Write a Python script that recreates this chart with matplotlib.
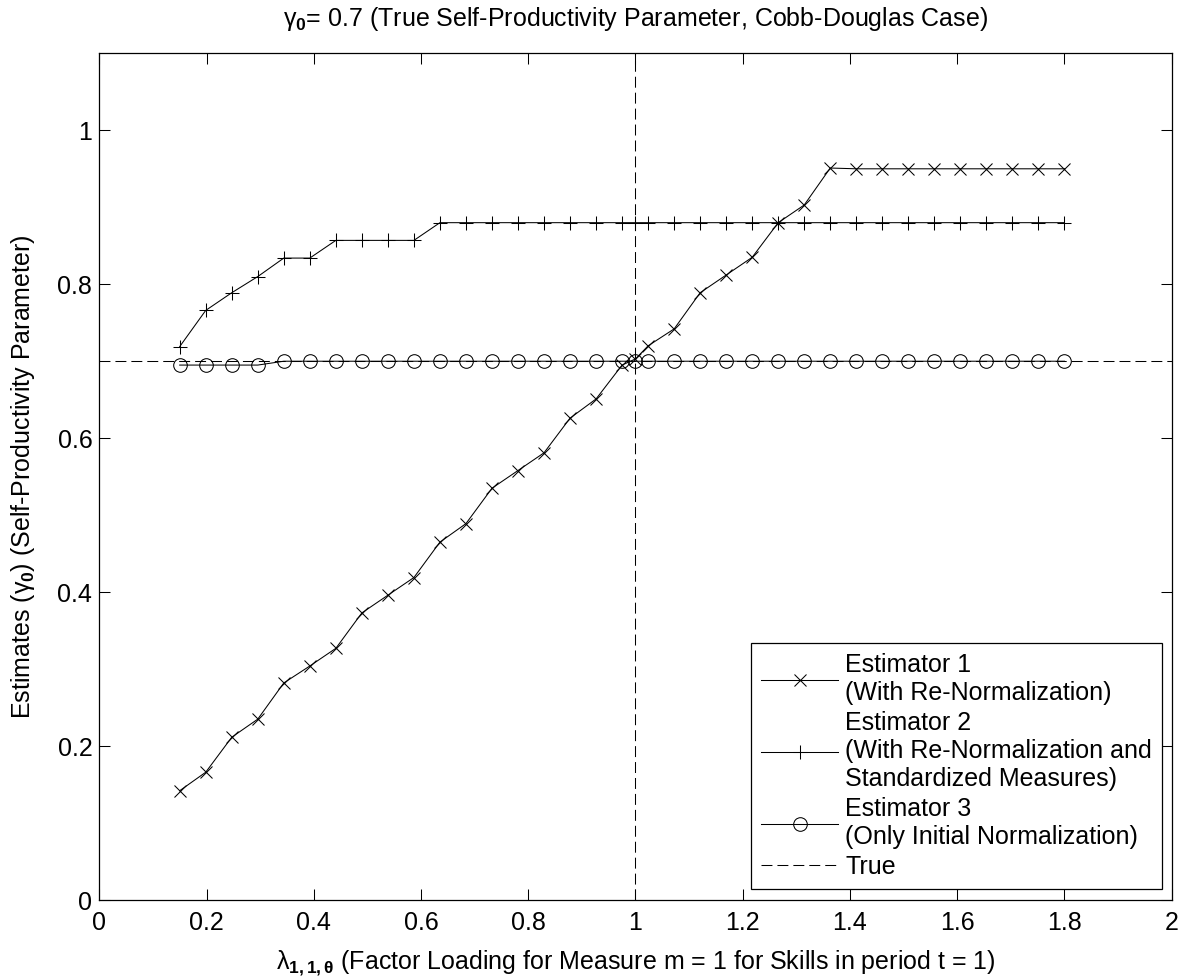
import matplotlib
matplotlib.use("Agg")
import matplotlib.pyplot as plt

plt.rcParams['font.family'] = ['Liberation Sans', 'DejaVu Sans']
plt.rcParams['mathtext.fontset'] = 'custom'
plt.rcParams['mathtext.rm'] = 'Liberation Sans'
plt.rcParams['mathtext.it'] = 'Liberation Sans'
plt.rcParams['mathtext.bf'] = 'Liberation Sans:bold'

# factor loading grid (lambda_1,1,theta)
lam = [0.150, 0.1985, 0.2471, 0.2956, 0.3441, 0.3926, 0.4412, 0.4897, 0.5382,
       0.5868, 0.6353, 0.6838, 0.7324, 0.7809, 0.8294, 0.8779, 0.9265, 0.9750,
       1.000, 1.0235, 1.0721, 1.1206, 1.1691, 1.2176, 1.2662, 1.3147, 1.3632,
       1.4118, 1.4603, 1.5088, 1.5574, 1.6059, 1.6544, 1.7029, 1.7515, 1.800]

est1 = [0.142, 0.166, 0.2115, 0.235, 0.282, 0.304, 0.327, 0.373, 0.396,
        0.419, 0.465, 0.489, 0.535, 0.558, 0.581, 0.626, 0.651, 0.695,
        0.703, 0.720, 0.742, 0.789, 0.812, 0.835, 0.880, 0.903, 0.951,
        0.950, 0.950, 0.950, 0.950, 0.950, 0.950, 0.950, 0.950, 0.950]

est2 = [0.719, 0.766, 0.789, 0.810, 0.834, 0.834, 0.857, 0.857, 0.857,
        0.857, 0.880, 0.880, 0.880, 0.880, 0.880, 0.880, 0.880, 0.880,
        0.880, 0.880, 0.880, 0.880, 0.880, 0.880, 0.880, 0.880, 0.880,
        0.880, 0.880, 0.880, 0.880, 0.880, 0.880, 0.880, 0.880, 0.880]

est3 = [0.695, 0.695, 0.695, 0.695, 0.700, 0.700, 0.700, 0.700, 0.700,
        0.700, 0.700, 0.700, 0.700, 0.700, 0.700, 0.700, 0.700, 0.700,
        0.700, 0.700, 0.700, 0.700, 0.700, 0.700, 0.700, 0.700, 0.700,
        0.700, 0.700, 0.700, 0.700, 0.700, 0.700, 0.700, 0.700, 0.700]

true_gamma = 0.7
true_lambda = 1.0

labels = ["Estimator 1\n(With Re-Normalization)",
          "Estimator 2\n(With Re-Normalization and\nStandardized Measures)",
          "Estimator 3\n(Only Initial Normalization)",
          "True"]

fig = plt.figure(figsize=(11.96, 9.77), dpi=100)
ax = fig.add_axes([0.0830, 0.0788, 0.8967, 0.8666])

lw = 0.75
dash = (0, (10.5, 4.8))
ax.plot(lam, est1, color='black', lw=lw, marker='x', ms=9, mew=0.75, label=labels[0])
ax.plot(lam, est2, color='black', lw=lw, marker='+', ms=9.5, mew=0.75, label=labels[1])
ax.plot(lam, est3, color='black', lw=lw, marker='o', ms=9.8, mew=0.75, mfc='none', label=labels[2])
ax.axhline(true_gamma, color='black', lw=lw, linestyle=dash, label=labels[3])
ax.axvline(true_lambda, color='black', lw=lw, linestyle=dash)

ax.set_xlim(0, 2)
ax.set_ylim(0, 1.1)
ax.set_xticks([0, 0.2, 0.4, 0.6, 0.8, 1, 1.2, 1.4, 1.6, 1.8, 2])
ax.set_xticklabels(['0', '0.2', '0.4', '0.6', '0.8', '1', '1.2', '1.4', '1.6', '1.8', '2'])
ax.set_yticks([0, 0.2, 0.4, 0.6, 0.8, 1])
ax.set_yticklabels(['0', '0.2', '0.4', '0.6', '0.8', '1'])
ax.tick_params(direction='in', top=True, right=True, length=8, width=0.75, labelsize=18)
ax.tick_params(axis='x', pad=8)
ax.tick_params(axis='y', pad=5)
for s in ax.spines.values():
    s.set_linewidth(0.9)

ax.set_title(r'$\gamma_{\mathbf{0}}$= 0.7 (True Self-Productivity Parameter, Cobb-Douglas Case)',
             fontsize=18, pad=20)
ax.set_xlabel(r'$\lambda_{\mathbf{1,1,\theta}}$ (Factor Loading for Measure m = 1 for Skills in period t = 1)',
              fontsize=18, labelpad=10)
ax.set_ylabel(r'Estimates ($\gamma_{\mathbf{0}}$) (Self-Productivity Parameter)', fontsize=18, labelpad=15)

leg = ax.legend(loc='lower right', bbox_to_anchor=(0.991, 0.013), borderaxespad=0,
                fontsize=18, fancybox=False, edgecolor='black', framealpha=1,
                handlelength=3.1, handletextpad=0.28, labelspacing=0.25, numpoints=1,
                borderpad=0.4)
leg.get_frame().set_linewidth(0.9)
for t in leg.get_texts():
    t.set_linespacing(1.2)

fig.savefig('out.png', dpi=100)
